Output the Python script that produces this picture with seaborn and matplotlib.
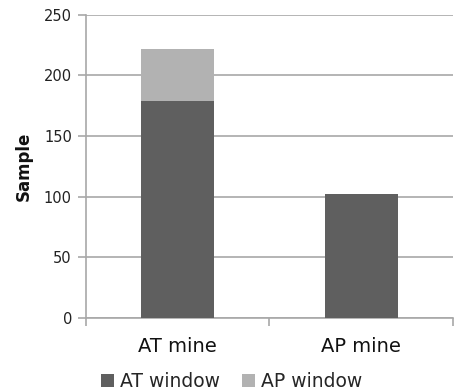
import numpy as np
import pandas as pd
import matplotlib
matplotlib.use("Agg")
import matplotlib.pyplot as plt
import matplotlib.ticker as mticker
from matplotlib.patches import Patch
import seaborn as sns

# ── Data ──────────────────────────────────────────────────────────────────────
categories = ["AT mine", "AP mine"]
at_window = [179, 102]
ap_window = [43, 0]
series_names = ["AT window", "AP window"]

DARK = "#5f5f5f"
LIGHT = "#b2b2b2"
GRID = "#a8a8a8"

sns.set_theme(style="white")
plt.rcParams['font.family'] = ['DejaVu Sans']

df = pd.DataFrame({
    "category": categories,
    "at": at_window,
    "total": np.array(at_window) + np.array(ap_window),
})

fig = plt.figure(figsize=(4.54, 3.91), dpi=100)
ax = fig.add_axes([0.189, 0.187, 0.809, 0.775])

# stacked: total first (light), then AT window on top (dark)
sns.barplot(data=df, x="category", y="total", color=LIGHT, width=0.4,
            saturation=1, linewidth=0, ax=ax, zorder=2)
sns.barplot(data=df, x="category", y="at", color=DARK, width=0.4,
            saturation=1, linewidth=0, ax=ax, zorder=3)

ax.set_ylim(0, 250)
ax.set_xlim(-0.5, 1.5)
ax.yaxis.set_major_locator(mticker.MultipleLocator(50))
ax.grid(axis="y", color=GRID, linewidth=1.2, zorder=0)
ax.set_axisbelow(True)

for s in ["top", "right"]:
    ax.spines[s].set_visible(False)
for s in ["left", "bottom"]:
    ax.spines[s].set_color(GRID)
    ax.spines[s].set_linewidth(1.2)

ax.tick_params(axis="y", left=True, length=6, width=1.2, color=GRID,
               labelsize=10.5, labelcolor="#222222", pad=4)
ax.tick_params(axis="x", bottom=False, labelsize=14, labelcolor="#111111", pad=8)
# category boundary ticks on bottom axis
ax.set_xticks([-0.5, 0.5, 1.5], minor=True)
ax.tick_params(axis="x", which="minor", bottom=True, length=6, width=1.2,
               color=GRID, direction="out")

ax.set_xlabel("")
ax.set_ylabel("Sample", fontsize=12, fontweight="semibold", color="#111111",
              labelpad=8)

handles = [Patch(facecolor=DARK, edgecolor="none"),
           Patch(facecolor=LIGHT, edgecolor="none")]
fig.legend(handles, series_names, loc="center", bbox_to_anchor=(0.51, 0.024),
           ncol=2, frameon=False, fontsize=13.5, handlelength=0.7,
           handleheight=0.7, handletextpad=0.3, columnspacing=1.2,
           borderpad=0)

fig.savefig("out.png", dpi=100)
